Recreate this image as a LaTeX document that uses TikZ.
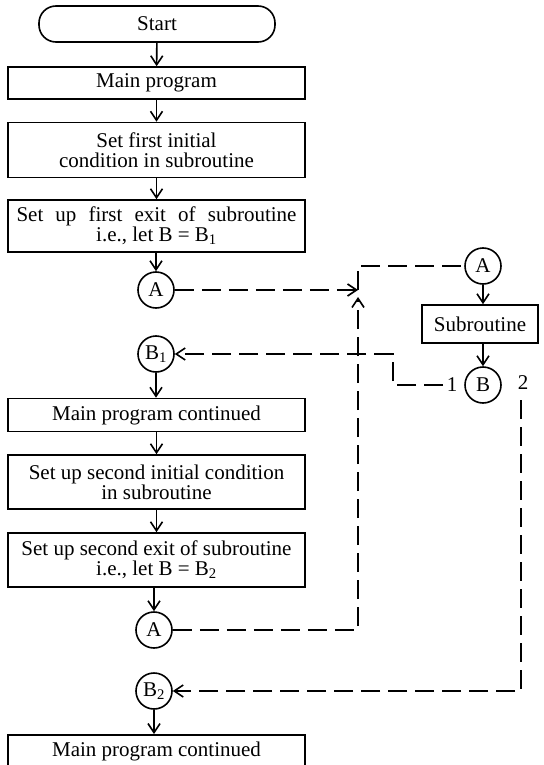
\documentclass[tikz,border=0pt]{standalone}
\usepackage{fontspec}
\setmainfont{Liberation Serif}
\usetikzlibrary{arrows.meta}
\begin{document}
\begin{tikzpicture}[x=1pt,y=-1pt,
 every node/.style={font=\fontsize{21}{20}\selectfont},
 box/.style={draw,line width=1.6pt,minimum width=297pt,inner sep=0pt,align=center},
 circ/.style={draw,circle,line width=1.6pt,minimum size=36pt,inner sep=0pt},
 tip/.style={-{Straight Barb[length=9pt,width=12pt,line width=1.6pt]}},
 flow/.style={line width=1.6pt,tip},
 dline/.style={line width=2.6pt,dash pattern=on 19pt off 8pt},
]
\useasboundingbox (0,0) rectangle (543,765);
% main column
\node[draw,line width=1.6pt,rounded corners=17pt,minimum width=236pt,minimum height=36pt] (start) at (157,24) {Start};
\node[box,minimum height=32pt] (main1) at (156.5,83) {Main program};
\node[box,minimum height=55pt] (init1) at (156.5,150) {Set first initial\\condition in subroutine};
\node[box,minimum height=52pt] (exit1) at (156.5,226) {\makebox[280pt][s]{Set up first exit of subroutine}\\i.e., let B = B\textsubscript{1}};
\node[circ] (A1) at (156,290) {A};
\node[circ] (B1) at (156,354) {B\textsubscript{1}};
\node[box,minimum height=33pt] (main2) at (156.5,415) {Main program continued};
\node[box,minimum height=54pt] (init2) at (156.5,482) {Set up second initial condition\\in subroutine};
\node[box,minimum height=54pt] (exit2) at (156.5,560) {Set up second exit of subroutine\\i.e., let B = B\textsubscript{2}};
\node[circ] (A2) at (154,630) {A};
\node[circ] (B2) at (154,691) {B\textsubscript{2}};
\node[box,minimum height=34pt,anchor=north] (main3) at (156.5,734) {Main program continued};
% subroutine column
\node[circ] (A3) at (483,266) {A};
\node[box,minimum width=116pt,minimum height=38pt] (sub) at (480,324) {Subroutine};
\node[circ] (B) at (483,385) {B};
\node (l1) at (452,385) {1};
\node (l2) at (523,383) {2};
% coordinates
\coordinate (J) at (358,290);
\coordinate (Jb) at (358,297);
\coordinate (Jt) at (358,266);
\coordinate (c1) at (393,385);
\coordinate (c2) at (393,354);
\coordinate (c3) at (521,400);
\coordinate (c4) at (521,691);
% solid flow
\draw[flow] (start) -- (main1);
\draw[flow] (main1) -- (init1);
\draw[flow] (init1) -- (exit1);
\draw[flow] (exit1.south -| A1) -- (A1);
\draw[flow] (B1) -- (B1 |- main2.north);
\draw[flow] (main2) -- (init2);
\draw[flow] (init2) -- (exit2);
\draw[flow] (exit2.south -| A2) -- (A2);
\draw[flow] (B2) -- (B2 |- main3.north);
\draw[flow] (A3) -- (A3 |- sub.north);
\draw[flow] (B |- sub.south) -- (B);
% dashed links
\draw[dline,tip] (A1) -- (J);
\draw[dline] (J) -- (Jt) -- (A3);
\draw[dline,tip] (A2) -- (A2 -| J) -- (Jb);
\draw[dline,tip] (l1) -- (c1) -- (c2) -- (B1);
\draw[dline,tip] (c3) -- (c4) -- (B2);
\end{tikzpicture}
\end{document}
